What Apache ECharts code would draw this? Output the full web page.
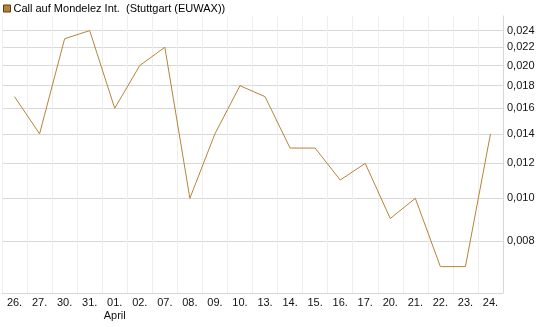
<!DOCTYPE html>
<html>
<head>
<meta charset="utf-8">
<script src="https://cdn.jsdelivr.net/npm/echarts@6/dist/echarts.min.js"></script>
<style>
  html, body { margin: 0; padding: 0; background: #fff; }
  #chart { width: 545px; height: 327px; }
</style>
</head>
<body>
<div id="chart"></div>
<script>
const days = ['26.', '27.', '30.', '31.', '01.', '02.', '07.', '08.', '09.', '10.',
  '13.', '14.', '15.', '16.', '17.', '20.', '21.', '22.', '23.', '24.']
const prices = [0.017, 0.014, 0.023, 0.024, 0.016, 0.020, 0.022, 0.010, 0.014, 0.018,
  0.017, 0.013, 0.013, 0.011, 0.012, 0.009, 0.010, 0.007, 0.007, 0.014]
const yTicks = [0.008, 0.010, 0.012, 0.014, 0.016, 0.018, 0.020, 0.022, 0.024]
const seriesName = 'Call auf Mondelez Int.  (Stuttgart (EUWAX))'

const chart = echarts.init(document.getElementById('chart'))
chart.setOption({
  animation: false,
  textStyle: { fontFamily: 'Liberation Sans, Arial, sans-serif' },
  legend: {
    left: 3, top: 3, padding: 0,
    itemWidth: 7, itemHeight: 7, itemGap: 4,
    icon: 'rect',
    textStyle: { fontSize: 11, color: '#000', padding: [0, 0, 0, -2] },
    data: [{ name: seriesName, itemStyle: { color: '#b5843a', borderColor: '#5a3d12', borderWidth: 1 } }]
  },
  grid: { left: 2, right: 42, top: 16, bottom: 34, outerBoundsMode: 'none' },
  xAxis: {
    type: 'category',
    data: days,
    boundaryGap: true,
    axisLine: { show: true, lineStyle: { color: '#d8d8d8' } },
    axisTick: { show: false },
    axisLabel: {
      color: '#111', fontSize: 11, margin: 3, interval: 0,
      formatter: function (v, i) { return i === 4 ? v + '\nApril' : v },
      lineHeight: 13
    },
    splitLine: { show: true, interval: 0, lineStyle: { color: '#eeeeee' } }
  },
  yAxis: {
    type: 'log',
    position: 'right',
    min: 0.0061, max: 0.0259,
    axisLine: { show: true, lineStyle: { color: '#d8d8d8' } },
    axisTick: { show: false, customValues: yTicks },
    axisLabel: {
      customValues: yTicks,
      color: '#111', fontSize: 11, margin: 4,
      formatter: function (v) { return v.toFixed(3).replace('.', ',') }
    },
    splitLine: { show: true, lineStyle: { color: '#d8d8d8' } }
  },
  series: [{
    name: seriesName,
    type: 'line',
    data: prices,
    symbol: 'none',
    lineStyle: { color: '#b5843a', width: 1 },
    itemStyle: { color: '#b5843a' }
  }]
})
</script>
</body>
</html>
